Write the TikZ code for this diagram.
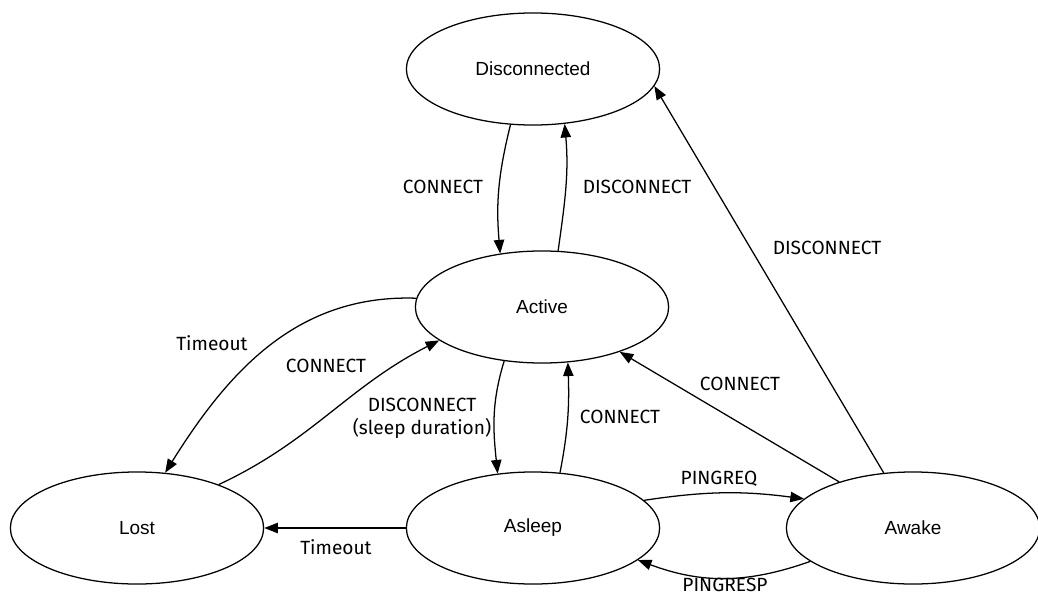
\documentclass[tikz,border=0pt]{standalone}
\usepackage{fontspec}
\setmainfont{Liberation Sans}
\newfontfamily\labelfont{Fira Sans}
\usetikzlibrary{shapes.geometric,arrows.meta}

\begin{document}
\begin{tikzpicture}[x=0.025cm,y=0.025cm,line width=0.9pt,
	>={Triangle[length=3.4mm,width=2.6mm]},
	statebox/.style={draw,ellipse,minimum width=6.33cm,minimum height=2.8cm,inner sep=0pt,font=\fontsize{13.5}{15}\selectfont},
	lbl/.style={inner sep=0pt,align=center,font=\labelfont\fontsize{13.6}{16.5}\selectfont}]
	\useasboundingbox (0,0) rectangle (1038,-597);
	%States
		\node [statebox] (dis) at (533,-69) {Disconnected};
		\node [statebox] (act) at (542,-307) {Active};
		\node [statebox] (lost) at (137,-528) {Lost};
		\node [statebox] (asl) at (533,-528) {Asleep};
		\node [statebox] (awk) at (913,-528) {Awake};
	%Disconnected and Active
		\draw [->] (dis.-112) to[out=-104,in=95] (act.128);
		\node [lbl] (l-con1) at (443,-187) {CONNECT};
		\draw [->] (act.74) to[out=82,in=-85] (dis.-60);
		\node [lbl] (l-dis1) at (637,-187) {DISCONNECT};
	%Awake to Disconnected
		\draw [->] (awk.118) -- (dis.-8);
		\node [lbl] (l-dis2) at (827,-248) {DISCONNECT};
	%Active and Lost
		\draw [->] (act.176) to[out=178,in=58] (lost.63);
		\node [lbl] (l-tim1) at (212,-343) {Timeout};
		\draw [->] (lost.28) to[out=25,in=207] (act.198);
		\node [lbl] (l-con2) at (326,-366) {CONNECT};
	%Active and Asleep
		\draw [->] (act.235) to[out=-107,in=96] (asl.123);
		\node [lbl] (l-dis3) at (422,-418) {DISCONNECT\\(sleep duration)};
		\draw [->] (asl.64) to[out=79,in=-88] (act.295);
		\node [lbl] (l-con3) at (620,-417) {CONNECT};
	%Awake to Active
		\draw [->] (awk.148) -- (act.330);
		\node [lbl] (l-con4) at (740,-384) {CONNECT};
	%Asleep and Awake
		\draw [->] (asl.14) to[bend left=8] (awk.165);
		\node [lbl] (l-preq) at (719,-479) {PINGREQ};
		\draw [->] (awk.198) to[bend left=20] (asl.-17);
		\node [lbl] (l-presp) at (725,-585) {PINGRESP};
	%Asleep to Lost
		\draw [->] (asl.180) -- (lost.0);
		\node [lbl] (l-tim2) at (336,-547) {Timeout};
\end{tikzpicture}
\end{document}
